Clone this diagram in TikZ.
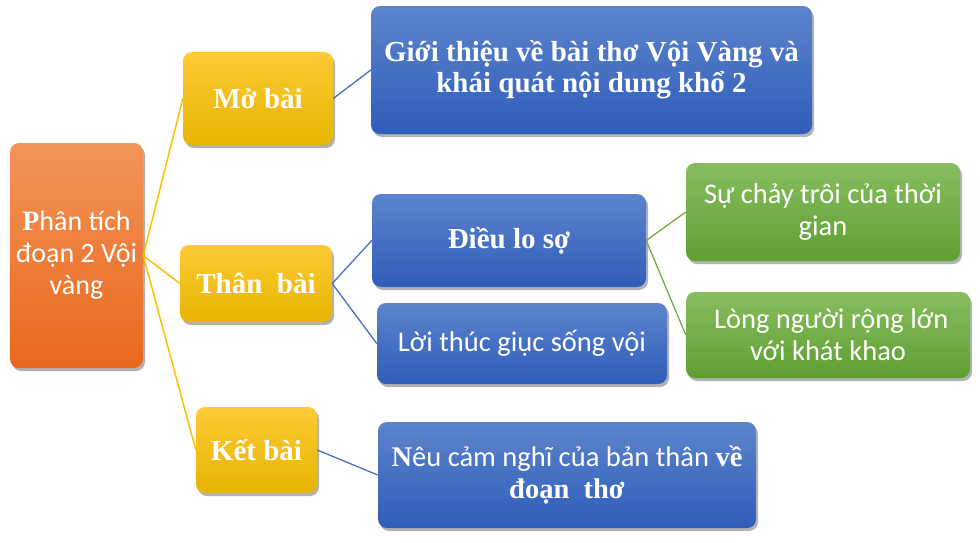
\documentclass[tikz,border=0pt]{standalone}
\usepackage{fontspec}
\setmainfont{Liberation Serif}
\newfontfamily\calib{Carlito}
\usetikzlibrary{shadows}
\definecolor{orTop}{HTML}{F39458}
\definecolor{orBot}{HTML}{E8681C}
\definecolor{yeTop}{HTML}{FFCA36}
\definecolor{yeBot}{HTML}{E6B400}
\definecolor{blTop}{HTML}{5D84CD}
\definecolor{blBot}{HTML}{2E5DB8}
\definecolor{grTop}{HTML}{88BD5F}
\definecolor{grBot}{HTML}{5E9F32}
\definecolor{yeLine}{HTML}{FFC000}
\definecolor{blLine}{HTML}{4472C4}
\definecolor{grLine}{HTML}{70AD47}

\tikzset{
  box/.style={rounded corners=9pt, text=white, align=center, inner sep=2pt,
    drop shadow={shadow xshift=2pt, shadow yshift=-3pt, opacity=0.3, fill=black}},
  rootbox/.style={box, top color=orTop, bottom color=orBot},
  partbox/.style={box, top color=yeTop, bottom color=yeBot},
  ideabox/.style={box, top color=blTop, bottom color=blBot},
  detailbox/.style={box, top color=grTop, bottom color=grBot},
  bold/.style={font=\fontsize{29}{31}\selectfont\bfseries},
  plain/.style={font=\fontsize{28.5}{32}\selectfont\calib}
}

\begin{document}
\begin{tikzpicture}[x=1pt,y=-1pt]
    \useasboundingbox (0,0) rectangle (980,542);
    \node[rootbox,minimum width=133pt,minimum height=225pt,font=\fontsize{28}{32}\selectfont\calib] (root) at (76.5,255.5) {{\rmfamily\bfseries P}hân tích\\đoạn 2 Vội\\vàng};
    \node[partbox,bold,minimum width=150pt,minimum height=93pt] (mo) at (258,98.5) {Mở bài};
    \node[partbox,bold,minimum width=152pt,minimum height=77pt] (than) at (256,283.5) {Thân\ \ bài};
    \node[partbox,bold,minimum width=121pt,minimum height=86pt] (ket) at (256.5,450) {Kết bài};
    \node[ideabox,bold,minimum width=441pt,minimum height=128pt] (gioithieu) at (591.5,70) {Giới thiệu về bài thơ Vội Vàng và\\khái quát nội dung khổ 2};
    \node[ideabox,bold,minimum width=274pt,minimum height=93pt] (dieulo) at (509,240.5) {Điều lo sợ};
    \node[ideabox,plain,minimum width=290pt,minimum height=81pt] (loithuc) at (522,343.5) {Lời thúc giục sống vội};
    \node[ideabox,plain,minimum width=378pt,minimum height=106pt] (camnghi) at (567,475) {{\rmfamily\bfseries N}êu cảm nghĩ của bản thân {\rmfamily\bfseries về}\\{\rmfamily\bfseries đoạn\ \ thơ}};
    \node[detailbox,plain,minimum width=274pt,minimum height=98pt] (chaytroi) at (823,212) {Sự chảy trôi của thời\\gian};
    \node[detailbox,plain,minimum width=284pt,minimum height=86pt] (longnguoi) at (828,335) {\ Lòng người rộng lớn\\với khát khao};

    \draw[yeLine,line width=1.5pt] (root.east) -- (mo.west);
    \draw[yeLine,line width=1.5pt] (root.east) -- (than.west);
    \draw[yeLine,line width=1.5pt] (root.east) -- (ket.west);
    \draw[blLine,line width=1.3pt] (mo.east) -- (gioithieu.west);
    \draw[blLine,line width=1.3pt] (than.east) -- (dieulo.west);
    \draw[blLine,line width=1.3pt] (than.east) -- (loithuc.west);
    \draw[blLine,line width=1.3pt] (ket.east) -- (camnghi.west);
    \draw[grLine,line width=1.3pt] (dieulo.east) -- (chaytroi.west);
    \draw[grLine,line width=1.3pt] (dieulo.east) -- (longnguoi.west);
\end{tikzpicture}
\end{document}
